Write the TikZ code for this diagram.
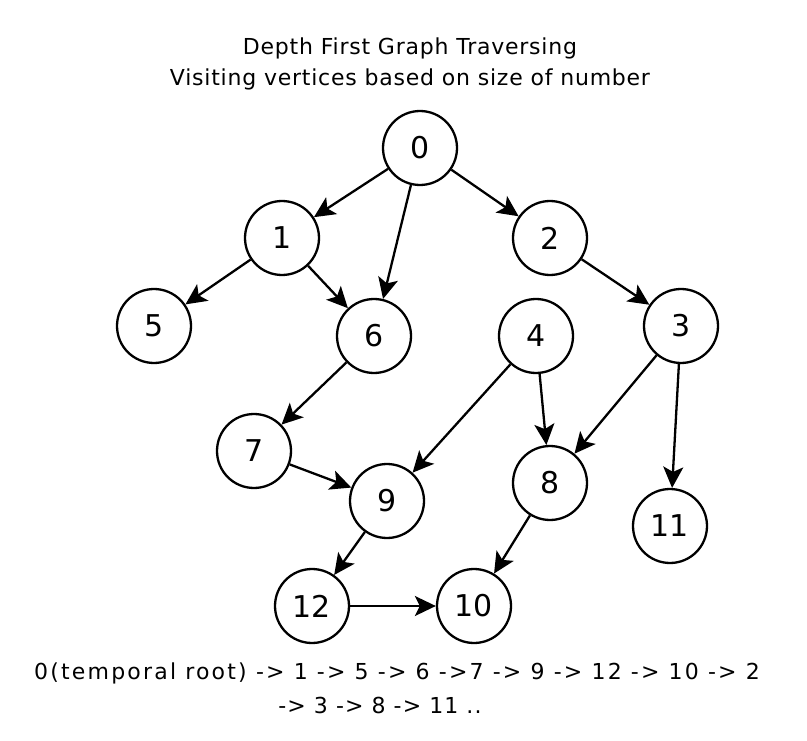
\documentclass[tikz,border=0pt]{standalone}
\usepackage{fontspec}
\setmainfont{DejaVu Sans}
\newfontfamily\titlefont[LetterSpace=3.5]{DejaVu Sans}
\newfontfamily\orderfont[LetterSpace=10]{DejaVu Sans}
\newfontfamily\ordertwofont[LetterSpace=5]{DejaVu Sans}
\usetikzlibrary{positioning,arrows.meta}
\tikzset{
	>={Stealth[length=21pt,width=20pt,inset=5pt]}
}

\begin{document}
\begin{tikzpicture}[
	x = 1pt, y = -1pt,
	line width = 2.3pt,
	every node/.style = {
		font = \fontsize{22}{31}\selectfont
	},
	vertex/.style = {
		draw,
		circle,
		minimum size = 74pt,
		inner sep = 0pt,
		font = \fontsize{30}{30}\selectfont
	}
	]
	\useasboundingbox (0,0) rectangle (807,741);

	\node[align = center, font = \titlefont\fontsize{22}{31}\selectfont] (title) at (410,64) {Depth First Graph Traversing\\Visiting vertices based on size of number};

	\node[vertex] (v0) at (420,148) {0};
	\node[vertex] (v1) at (282,238) {1};
	\node[vertex] (v2) at (550,238) {2};
	\node[vertex] (v5) at (154,326) {5};
	\node[vertex] (v6) at (374,336) {6};
	\node[vertex] (v4) at (536,336) {4};
	\node[vertex] (v3) at (681,326) {3};
	\node[vertex] (v7) at (254,451) {7};
	\node[vertex] (v9) at (387,501) {9};
	\node[vertex] (v8) at (550,483) {8};
	\node[vertex] (v11) at (670,526) {11};
	\node[vertex] (v12) at (312,606) {12};
	\node[vertex] (v10) at (474,606) {10};

	\draw[->] (v0) -- (v1);
	\draw[->] (v0) -- (v6);
	\draw[->] (v0) -- (v2);
	\draw[->] (v1) -- (v5);
	\draw[->] (v1) -- (v6);
	\draw[->] (v2) -- (v3);
	\draw[->] (v6) -- (v7);
	\draw[->] (v7) -- (v9);
	\draw[->] (v4) -- (v9);
	\draw[->] (v4) -- (v8);
	\draw[->] (v3) -- (v8);
	\draw[->] (v3) -- (v11);
	\draw[->] (v9) -- (v12);
	\draw[->] (v8) -- (v10);
	\draw[->] (v12) -- (v10);

	% visiting order
	\node[font = \orderfont\fontsize{22}{31}\selectfont] (order) at (397,673) {0(temporal root) -> 1 -> 5 -> 6 ->7 -> 9 -> 12 -> 10 -> 2};
	\node[font = \ordertwofont\fontsize{22}{31}\selectfont] (order2) at (380,705) {-> 3 -> 8 -> 11 ..};

\end{tikzpicture}
\end{document}
